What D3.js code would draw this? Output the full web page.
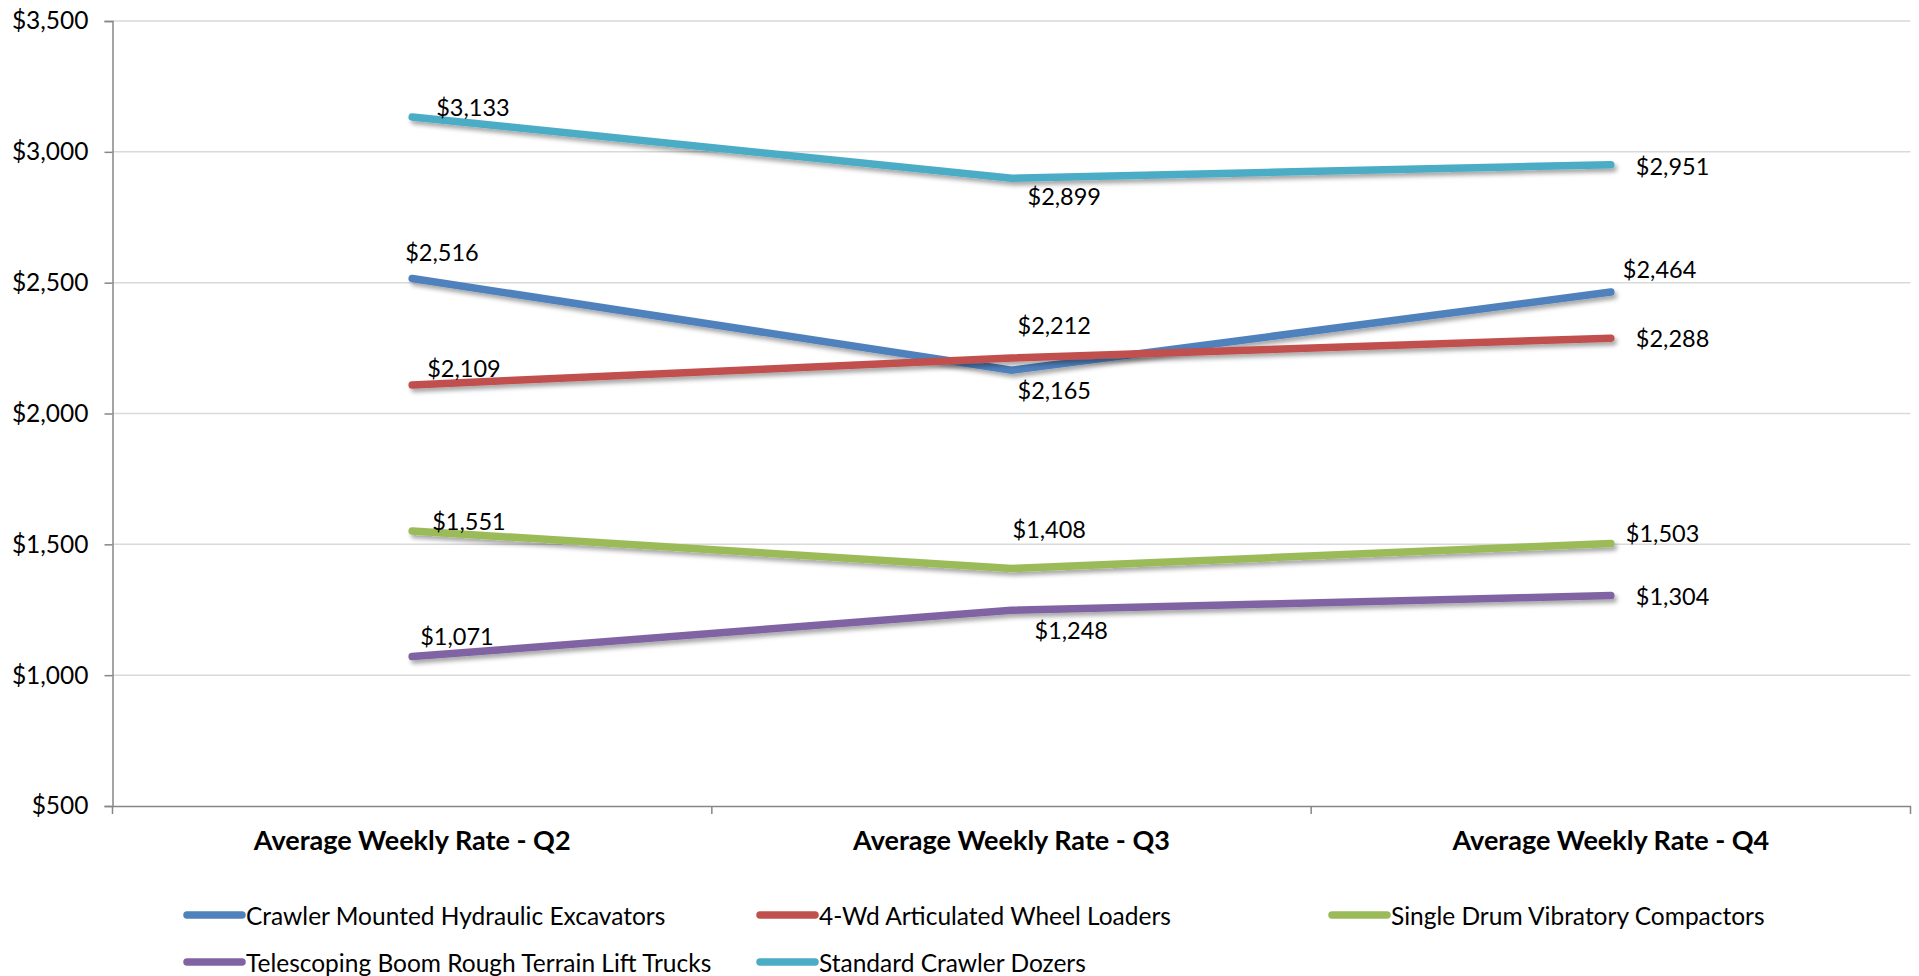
<!DOCTYPE html>
<html>
<head>
<meta charset="utf-8">
<script src="https://cdn.jsdelivr.net/npm/d3@7"></script>
<style>
  body { margin: 0; background: #fff; }
  svg { display: block; font-family: Lato, "Open Sans", sans-serif; }
</style>
</head>
<body>
<div id="chart"></div>
<script>
// data
var quarters = ["Average Weekly Rate - Q2", "Average Weekly Rate - Q3", "Average Weekly Rate - Q4"];
var seriesNames = ["Crawler Mounted Hydraulic Excavators", "4-Wd Articulated Wheel Loaders",
                   "Single Drum Vibratory Compactors", "Telescoping Boom Rough Terrain Lift Trucks",
                   "Standard Crawler Dozers"];
var excavators = [2516, 2165, 2464];
var loaders    = [2109, 2212, 2288];
var compactors = [1551, 1408, 1503];
var liftTrucks = [1071, 1248, 1304];
var dozers     = [3133, 2899, 2951];
var yTicks = [500, 1000, 1500, 2000, 2500, 3000, 3500];

var colors = ["#4F81BD", "#C0504D", "#9BBB59", "#8064A2", "#4BACC6"];
// where each data label sits relative to its point [dx, dy]
var labelOffsets = [
    [[-7, -26], [6, 20], [12, -23]],
    [[15, -17], [6, -33], [25, 0]],
    [[20, -10], [1, -39], [15, -11]],
    [[8, -21], [23, 20], [25, 0]],
    [[24, -10], [16, 18], [25, 1]]
];

function main() {
    var W = 1919, H = 976;
    var margin = {top: 21, left: 112.5, right: 8.5, bottom: 170};
    var width = W - margin.left - margin.right,
        height = H - margin.top - margin.bottom;

    var allSeries = [excavators, loaders, compactors, liftTrucks, dozers];

    var svg = d3.select("#chart").append("svg")
        .attr("width", W).attr("height", H);

    var defs = svg.append("defs");
    var f = defs.append("filter").attr("id", "shadow")
        .attr("x", "-10%").attr("y", "-50%").attr("width", "130%").attr("height", "250%");
    f.append("feDropShadow").attr("dx", 2.5).attr("dy", 3.5).attr("stdDeviation", 2)
        .attr("flood-color", "#000").attr("flood-opacity", 0.35);

    var g = svg.append("g").attr("transform", "translate(" + margin.left + "," + margin.top + ")");

    var xScale = d3.scaleBand().domain(quarters).range([0, width]).padding(0);
    var yScale = d3.scaleLinear().domain([500, 3500]).range([height, 0]);
    var cx = function(i) { return xScale(quarters[i]) + xScale.bandwidth() / 2; };

    // gridlines
    g.append("g").selectAll("line").data(yTicks.slice(1)).enter().append("line")
        .attr("x1", 0).attr("x2", width)
        .attr("y1", function(d) { return yScale(d); })
        .attr("y2", function(d) { return yScale(d); })
        .attr("stroke", "#D9D9D9").attr("stroke-width", 1.5);

    // y axis
    var yAxis = g.append("g")
        .call(d3.axisLeft(yScale).tickValues(yTicks).tickFormat(d3.format("$,")).tickSize(8).tickPadding(16));
    yAxis.select(".domain").attr("stroke", "#868686").attr("stroke-width", 1.5);
    yAxis.selectAll(".tick line").attr("stroke", "#868686").attr("stroke-width", 1.5);
    yAxis.selectAll("text").attr("font-size", 24.5).attr("fill", "#000").attr("font-family", "Lato");

    // x axis
    var xAxis = g.append("g").attr("transform", "translate(0," + height + ")")
        .call(d3.axisBottom(xScale).tickSize(0).tickPadding(25).tickSizeOuter(0));
    xAxis.select(".domain").attr("stroke", "#868686").attr("stroke-width", 1.5);
    xAxis.selectAll("text").attr("font-size", 27).attr("font-weight", "bold")
        .attr("fill", "#000").attr("font-family", "Lato");
    var bounds = quarters.map(function(q) { return xScale(q); }).concat([width]);
    xAxis.selectAll(".bound").data(bounds).enter().append("line")
        .attr("class", "bound")
        .attr("x1", function(d) { return d; }).attr("x2", function(d) { return d; })
        .attr("y1", 0).attr("y2", 8)
        .attr("stroke", "#868686").attr("stroke-width", 1.5);

    var line = d3.line()
        .x(function(d, i) { return cx(i); })
        .y(function(d) { return yScale(d); });

    allSeries.forEach(function(s, k) {
        g.append("path")
            .datum(s)
            .attr("d", line)
            .attr("fill", "none")
            .attr("stroke", colors[k])
            .attr("stroke-width", 7.5)
            .attr("stroke-linecap", "round")
            .attr("stroke-linejoin", "miter")
            .attr("filter", "url(#shadow)");
    });

    var fmt = d3.format("$,");
    allSeries.forEach(function(s, k) {
        g.append("g").selectAll("text").data(s).enter().append("text")
            .attr("x", function(d, i) { return cx(i) + labelOffsets[k][i][0]; })
            .attr("y", function(d, i) { return yScale(d) + labelOffsets[k][i][1]; })
            .attr("dominant-baseline", "central")
            .attr("font-size", 23.5)
            .attr("fill", "#000")
            .text(function(d) { return fmt(d); });
    });

    // legend
    var legendPos = [[187, 915], [760, 915], [1332, 915], [187, 962], [760, 962]];
    var legend = svg.append("g");
    seriesNames.forEach(function(name, k) {
        var p = legendPos[k];
        legend.append("line")
            .attr("x1", p[0]).attr("x2", p[0] + 55)
            .attr("y1", p[1]).attr("y2", p[1])
            .attr("stroke", colors[k]).attr("stroke-width", 7.5)
            .attr("stroke-linecap", "round");
        legend.append("text")
            .attr("x", p[0] + 59).attr("y", p[1])
            .attr("dominant-baseline", "central")
            .attr("font-size", 24.5)
            .attr("fill", "#000")
            .text(name);
    });
}
main();
</script>
</body>
</html>
